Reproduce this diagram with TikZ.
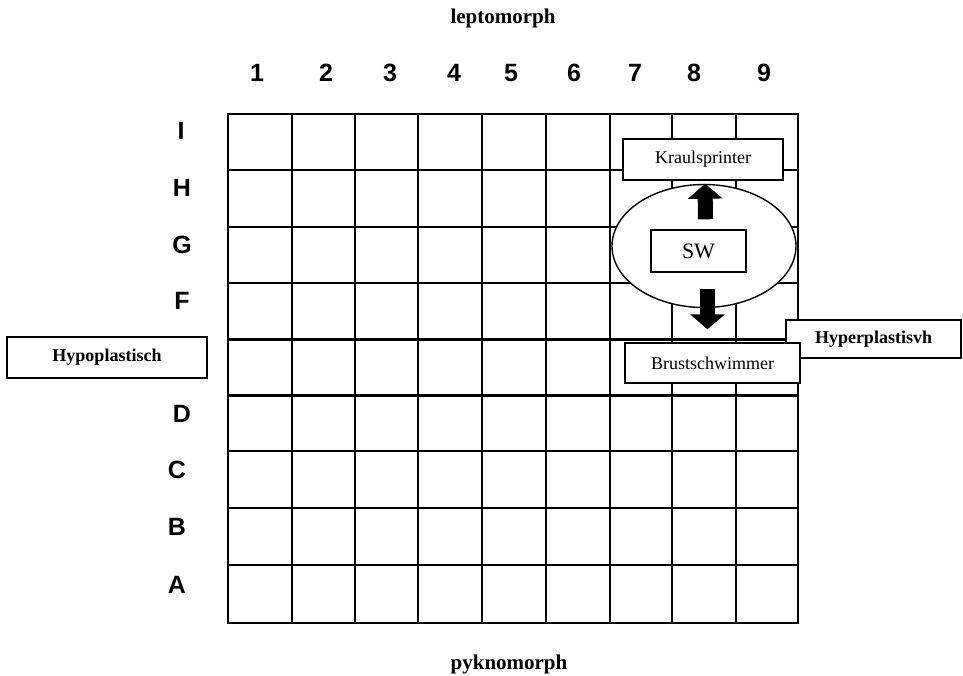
\documentclass[tikz,border=0pt]{standalone}
\usepackage{fontspec}
\setmainfont{Liberation Serif}
\newfontfamily\arialfont{Liberation Sans}
\usetikzlibrary{shapes.geometric,arrows.meta}
\tikzset{
  thin grid/.style={line width=1.6pt},
  thick grid/.style={line width=3pt},
  axislabel/.style={font=\arialfont\bfseries\fontsize{25}{27}\selectfont},
  title/.style={font=\bfseries\fontsize{21}{23}\selectfont},
  box/.style={draw, fill=white, line width=1.4pt, inner sep=0pt, font=\fontsize{18}{20}\selectfont},
  boldbox/.style={box, font=\bfseries\fontsize{18}{20}\selectfont},
  bigarrow/.style={line width=15pt, line cap=butt, -{Triangle[width=34pt,length=15pt]}},
}
\begin{document}
\begin{tikzpicture}[x=1pt,y=-1pt]
\useasboundingbox (0,0) rectangle (963,675);
% grid
\foreach \x in {292,355,418,610,672,736}
  \draw[thin grid] (\x,114) -- (\x,623);
\foreach \x in {482,546}
  \draw[line width=2.4pt] (\x,114) -- (\x,623);
\foreach \y in {170,227,283,451,508,565}
  \draw[thin grid] (228,\y) -- (798,\y);
\foreach \y in {339,395}
  \draw[thick grid] (228,\y) -- (798,\y);
\draw[line width=2.8pt] (228,114) rectangle (798,623);
% titles
\node[title] (lepto) at (503,18) {leptomorph};
\node[title] (pykno) at (509,664) {pyknomorph};
% column labels
\foreach \n/\x in {1/257,2/326,3/390,4/454,5/511,6/574,7/635,8/694,9/764}
  \node[axislabel] (c\n) at (\x,73) {\n};
% row labels
\foreach \n/\x/\y in {I/181/131,H/182/188,G/182/245,F/182/301,D/182/414,C/177/470,B/177/527,A/177/585}
  \node[axislabel] (r\n) at (\x,\y) {\n};
% side boxes
\node[boldbox, minimum width=200pt, minimum height=41pt] (hypo) at (107,357.5) {Hypoplastisch};
\node[boldbox, minimum width=175pt, minimum height=38pt] (hyper) at (873.5,339) {Hyperplastisvh};
% ellipse and inner boxes
\node[ellipse, draw, fill=white, line width=1.4pt, minimum width=184pt, minimum height=123pt, inner sep=0pt] (ell) at (704,246) {};
\node[box, minimum width=95pt, minimum height=42pt, font=\fontsize{22}{24}\selectfont] (sw) at (698.5,251) {SW};
\node[box, minimum width=160pt, minimum height=41pt] (kraul) at (703,159.5) {Kraulsprinter};
\node[box, minimum width=175pt, minimum height=40pt] (brust) at (712.5,363) {Brustschwimmer};
% arrows
\draw[bigarrow] ([xshift=7pt,yshift=10pt]sw.north) -- ([xshift=2pt,yshift=-3pt]kraul.south);
\draw[bigarrow] ([xshift=9pt,yshift=-16pt]sw.south) -- ([xshift=-5pt,yshift=13pt]brust.north);
\end{tikzpicture}
\end{document}
